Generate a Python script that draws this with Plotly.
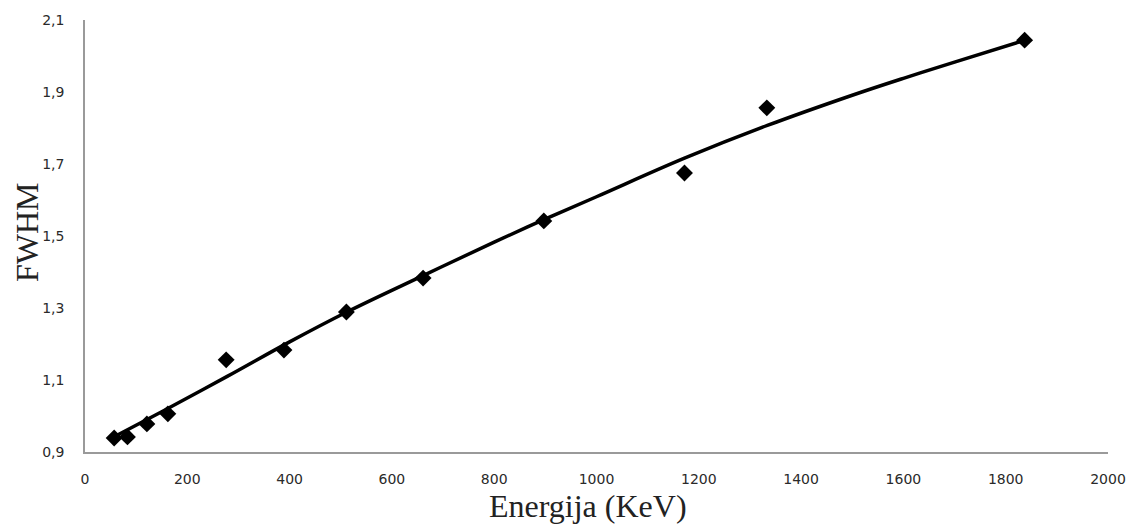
import plotly.graph_objects as go

# Measured points (energy in keV, FWHM)
energy = [57, 83, 121, 162, 276, 389, 511, 661, 897, 1172, 1333, 1837]
fwhm = [0.939, 0.942, 0.978, 1.006, 1.156, 1.183, 1.289, 1.383, 1.542, 1.675, 1.856, 2.044]

# Trend line
trend_x = [58, 150, 278, 400, 512, 661, 800, 898, 1000, 1172, 1334, 1500, 1600, 1700, 1836]
trend_y = [0.943, 1.012, 1.110, 1.206, 1.289, 1.390, 1.483, 1.546, 1.609, 1.716, 1.807,
           1.891, 1.938, 1.983, 2.043]

x_ticks = [0, 200, 400, 600, 800, 1000, 1200, 1400, 1600, 1800, 2000]
y_ticks = [0.9, 1.1, 1.3, 1.5, 1.7, 1.9, 2.1]

fig = go.Figure()
fig.add_trace(go.Scatter(
    x=trend_x, y=trend_y, mode="lines", line=dict(color="black", width=3.5, shape="spline"),
    showlegend=False, hoverinfo="skip"))
fig.add_trace(go.Scatter(
    x=energy, y=fwhm, mode="markers",
    marker=dict(symbol="diamond", size=13, color="black"),
    showlegend=False))

tick_font = dict(family="DejaVu Sans", size=14, color="#2a2a2a")

fig.update_layout(
    width=1138, height=525,
    margin=dict(l=85, r=20, t=20, b=73),
    paper_bgcolor="white", plot_bgcolor="white",
    separators=", ",
    xaxis=dict(range=[0, 2000], tickvals=x_ticks, showgrid=False, zeroline=False,
               showline=True, linecolor="#9a9a9a", linewidth=1.5,
               ticks="outside", ticklen=13, tickcolor="rgba(0,0,0,0)",
               tickfont=tick_font),
    yaxis=dict(range=[0.9, 2.1], tickvals=y_ticks, tickformat=".1f", showgrid=False,
               zeroline=False, showline=True, linecolor="#9a9a9a", linewidth=1.5,
               ticks="outside", ticklen=16, tickcolor="rgba(0,0,0,0)",
               tickfont=tick_font),
    annotations=[
        dict(text="Energija (KeV)", xref="paper", yref="paper", x=0.492, y=0,
             xanchor="center", yanchor="middle", yshift=-54, showarrow=False,
             font=dict(family="Liberation Serif", size=32, color="#222222")),
        dict(text="FWHM", xref="paper", yref="paper", x=0, y=0.509, xshift=-58,
             xanchor="center", yanchor="middle", textangle=-90, showarrow=False,
             font=dict(family="Liberation Serif", size=32, color="#222222")),
    ],
)

fig.write_html(
    "out.html",
    config={"displayModeBar": False},
    post_script="document.body.style.margin='0';document.body.style.overflow='hidden';",
)
